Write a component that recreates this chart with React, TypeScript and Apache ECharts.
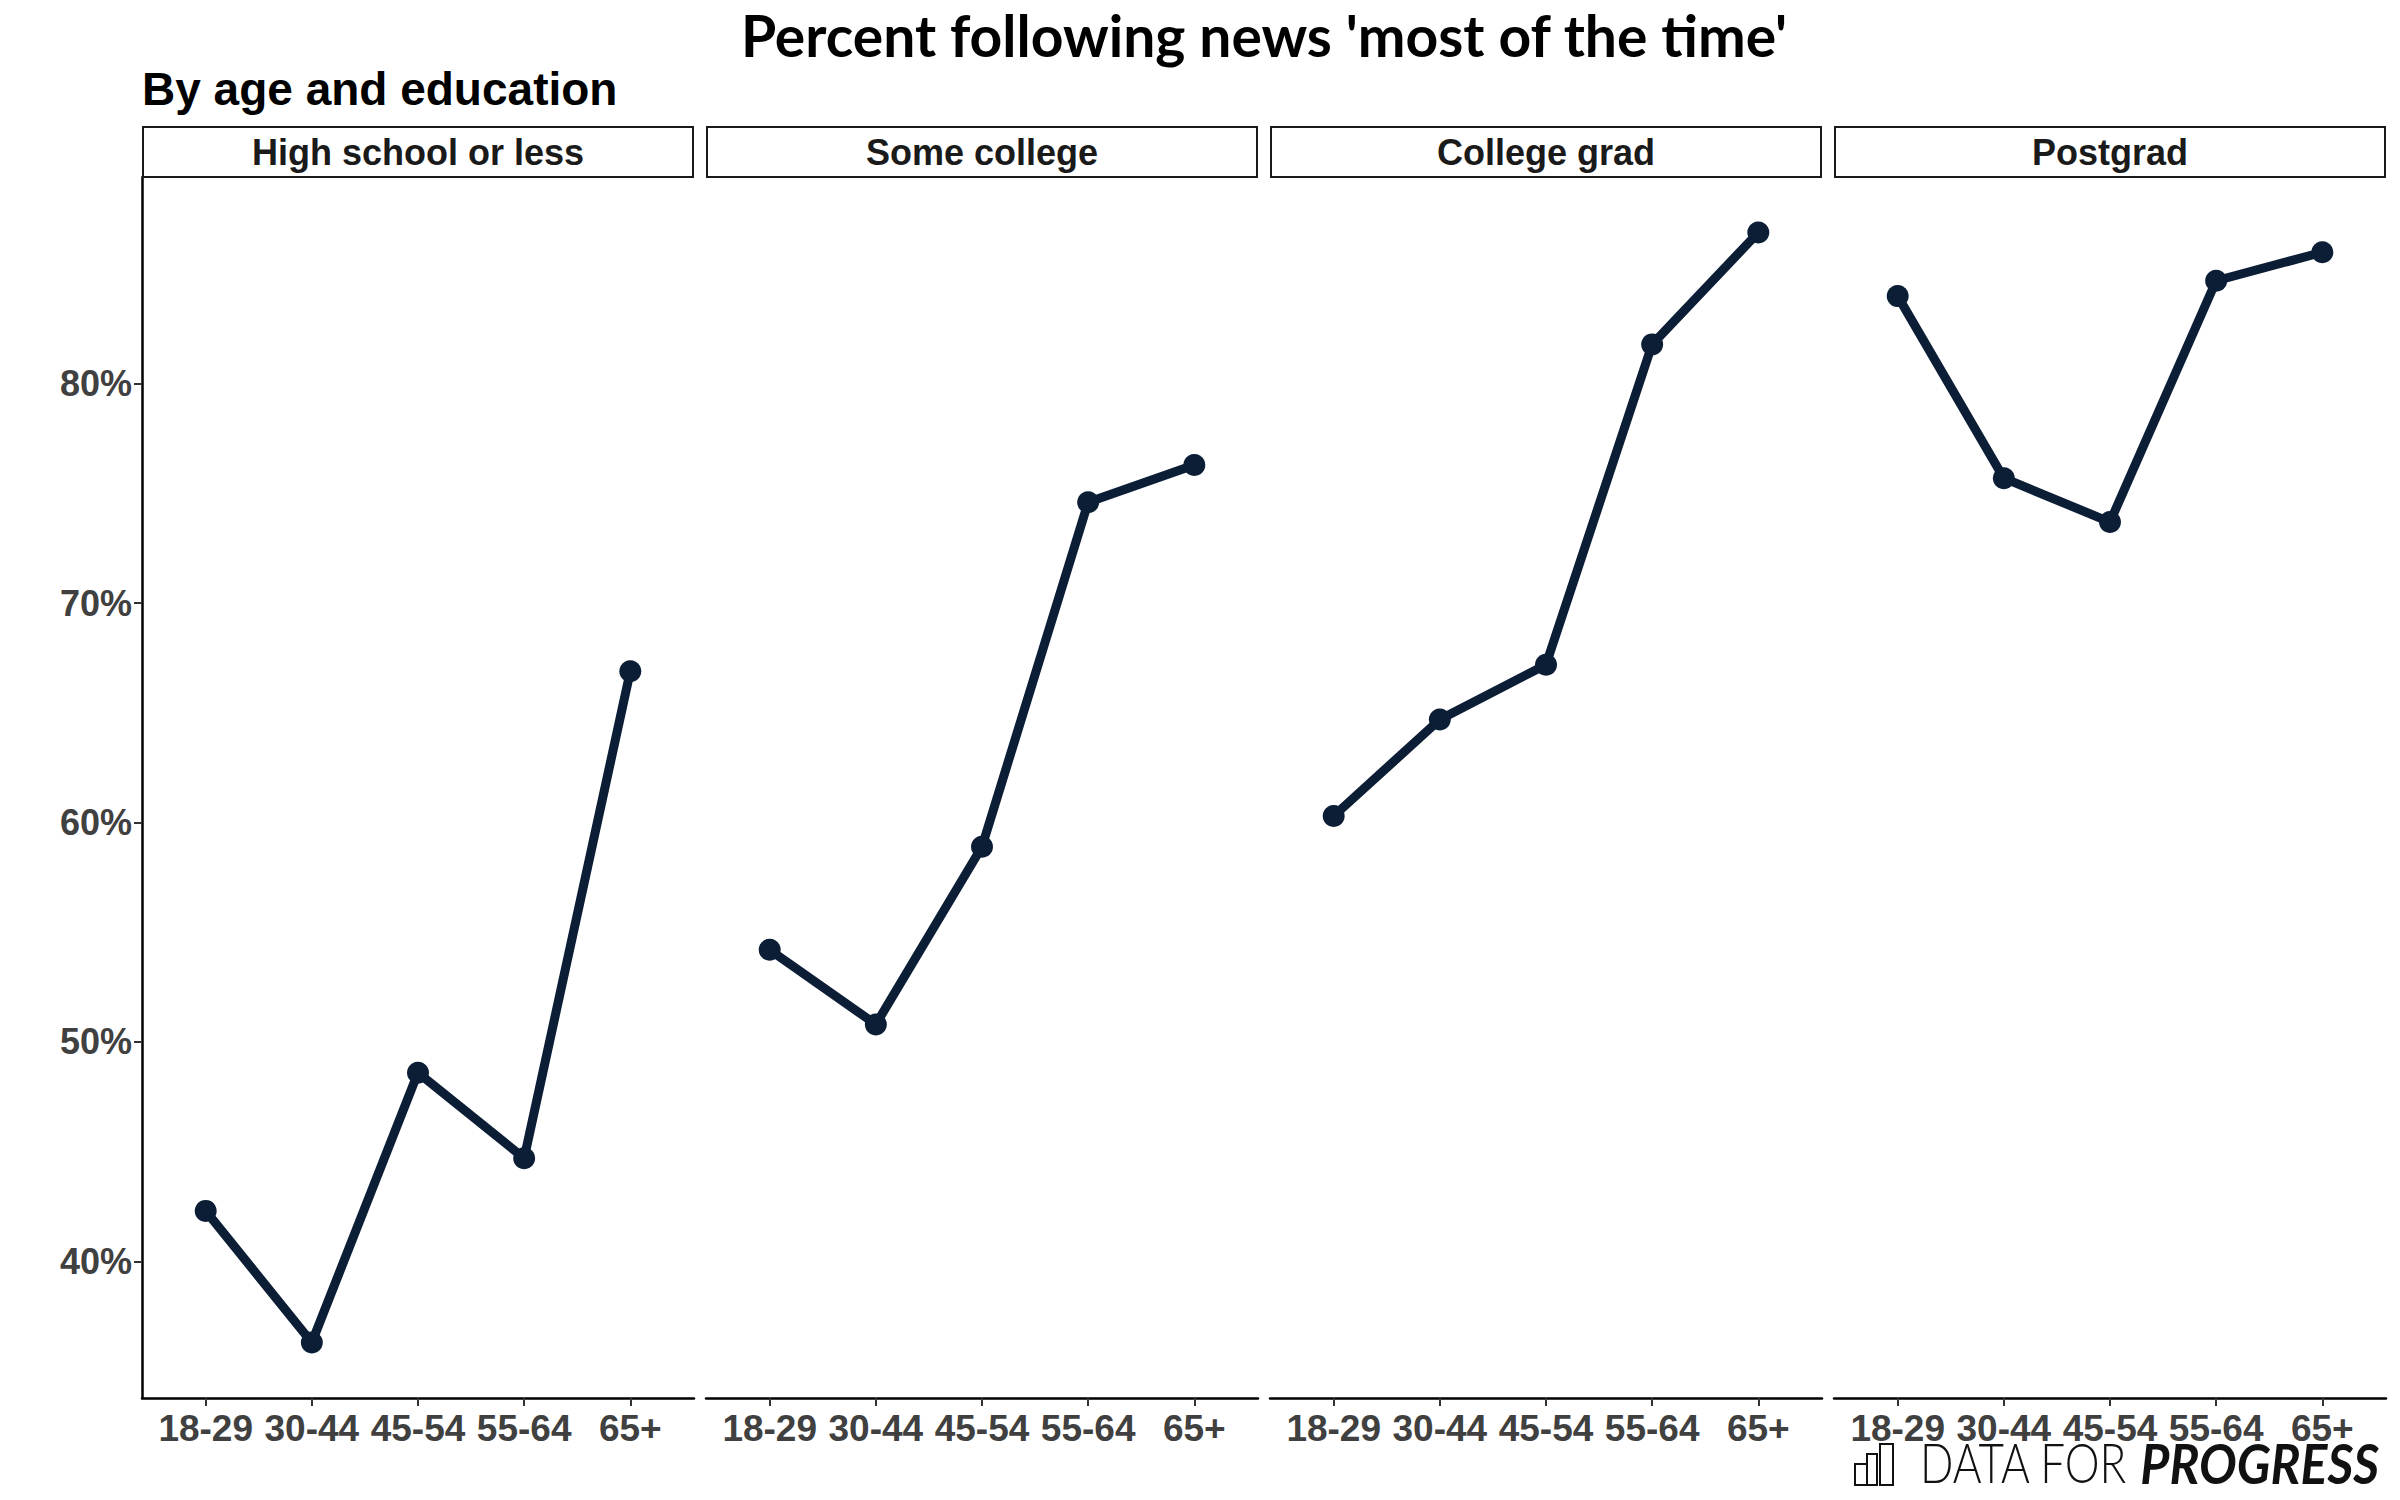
import React, { useEffect, useRef } from "react";
import * as echarts from "echarts";

const ages = ["18-29", "30-44", "45-54", "55-64", "65+"];
const panels = ["High school or less", "Some college", "College grad", "Postgrad"];
const highSchool = [42.3, 36.3, 48.6, 44.7, 66.9];
const someCollege = [54.2, 50.8, 58.9, 74.6, 76.3];
const collegeGrad = [60.3, 64.7, 67.2, 81.8, 86.9];
const postgrad = [84.0, 75.7, 73.7, 84.7, 86.0];
const yTicks = [40, 50, 60, 70, 80];
const xPositions = [1, 2, 3, 4, 5];

const seriesValues = [highSchool, someCollege, collegeGrad, postgrad];

export default function App() {
  const ref = useRef<HTMLDivElement>(null);
  useEffect(() => {
    if (!ref.current) return;
    const chart = echarts.init(ref.current, null, { renderer: "svg" });
    const all = seriesValues.flat();
    const dMin = Math.min(...all);
    const dMax = Math.max(...all);
    const pad = (dMax - dMin) * 0.05;
    const yMin = dMin - pad;
    const yMax = dMax + pad;

    const lefts = [142, 706, 1270, 1834];
    const pw = 552;
    const top = 177;
    const ph = 1221;
    const lineColor = "#0c1d36";
    const labelFont = "'Liberation Sans', Arial, sans-serif";

    const grids = lefts.map((l) => ({ left: l, top, width: pw, height: ph }));
    const xAxes = lefts.map((_, i) => ({
      type: "value",
      gridIndex: i,
      min: 0.4,
      max: 5.6,
      splitLine: { show: false },
      axisLine: { show: true, lineStyle: { color: "#000", width: 2.5 } },
      axisTick: {
        show: true,
        customValues: xPositions,
        length: 8,
        lineStyle: { color: "#333", width: 2 },
      },
      axisLabel: {
        show: true,
        customValues: xPositions,
        formatter: (v: number) => ages[Math.round(v) - 1] ?? "",
        color: "#404040",
        fontFamily: labelFont,
        fontWeight: "bold",
        fontSize: 37,
        margin: 12,
      },
    }));
    const yAxes = lefts.map((_, i) => ({
      type: "value",
      gridIndex: i,
      min: yMin,
      max: yMax,
      show: i === 0,
      splitLine: { show: false },
      axisLine: { show: i === 0, lineStyle: { color: "#000", width: 2.5 } },
      axisTick: {
        show: i === 0,
        customValues: yTicks,
        length: 8,
        lineStyle: { color: "#333", width: 2 },
      },
      axisLabel: {
        show: i === 0,
        customValues: yTicks,
        formatter: (v: number) => `${Math.round(v)}%`,
        color: "#404040",
        fontFamily: labelFont,
        fontWeight: "bold",
        fontSize: 36,
        margin: 10,
      },
    }));
    const series = seriesValues.map((vals, i) => ({
      type: "line",
      name: panels[i],
      xAxisIndex: i,
      yAxisIndex: i,
      data: vals.map((v, j) => [xPositions[j], v]),
      symbol: "circle",
      symbolSize: 22,
      lineStyle: { color: lineColor, width: 9 },
      itemStyle: { color: lineColor },
      z: 3,
    }));

    const strips: any[] = [];
    lefts.forEach((l, i) => {
      strips.push({
        type: "rect",
        shape: { x: l + 1, y: 127, width: pw - 2, height: 50 },
        style: { fill: "#fff", stroke: "#1a1a1a", lineWidth: 2 },
        z: 10,
      });
      strips.push({
        type: "text",
        x: l + pw / 2,
        y: 152,
        style: {
          text: panels[i],
          fill: "#1a1a1a",
          font: `bold 36px ${labelFont}`,
          textAlign: "center",
          textVerticalAlign: "middle",
        },
        z: 11,
      });
    });

    const logoBase = 1485;
    const logo: any[] = [
      { type: "rect", shape: { x: 1855, y: logoBase - 21, width: 12, height: 21 }, style: { fill: "none", stroke: "#111", lineWidth: 2 } },
      { type: "rect", shape: { x: 1867, y: logoBase - 31, width: 10, height: 31 }, style: { fill: "none", stroke: "#111", lineWidth: 2 } },
      { type: "rect", shape: { x: 1880, y: logoBase - 41, width: 13, height: 41 }, style: { fill: "none", stroke: "#111", lineWidth: 2 } },
      {
        type: "text",
        x: 1920,
        y: logoBase + 5,
        scaleX: 0.8,
        style: {
          text: "DATA FOR",
          fill: "#111",
          font: "300 55px Lato, 'DejaVu Sans', sans-serif",
          textAlign: "left",
          textVerticalAlign: "bottom",
        },
      },
      {
        type: "text",
        x: 2379,
        y: logoBase + 5,
        scaleX: 0.91,
        style: {
          text: "PROGRESS",
          fill: "#111",
          font: "italic bold 55px Lato, 'DejaVu Sans', sans-serif",
          textAlign: "right",
          textVerticalAlign: "bottom",
        },
      },
    ];

    chart.setOption({
      animation: false,
      backgroundColor: "#fff",
      grid: grids,
      xAxis: xAxes,
      yAxis: yAxes,
      series,
      graphic: [
        {
          type: "text",
          x: 1264,
          y: 35,
          style: {
            text: "Percent following news 'most of the time'",
            fill: "#000",
            font: "bold 57px Lato, 'Noto Sans', sans-serif",
            lineHeight: 44,
            textAlign: "center",
            textVerticalAlign: "middle",
          },
        },
        {
          type: "text",
          x: 142,
          y: 89,
          style: {
            text: "By age and education",
            fill: "#000",
            font: `bold 46px ${labelFont}`,
            textAlign: "left",
            textVerticalAlign: "middle",
          },
        },
        ...strips,
        ...logo,
      ],
    });
    return () => chart.dispose();
  }, []);
  return (
    <div
      ref={ref}
      style={{ position: "fixed", left: 0, top: 0, width: 2400, height: 1500, background: "#fff" }}
    />
  );
}
